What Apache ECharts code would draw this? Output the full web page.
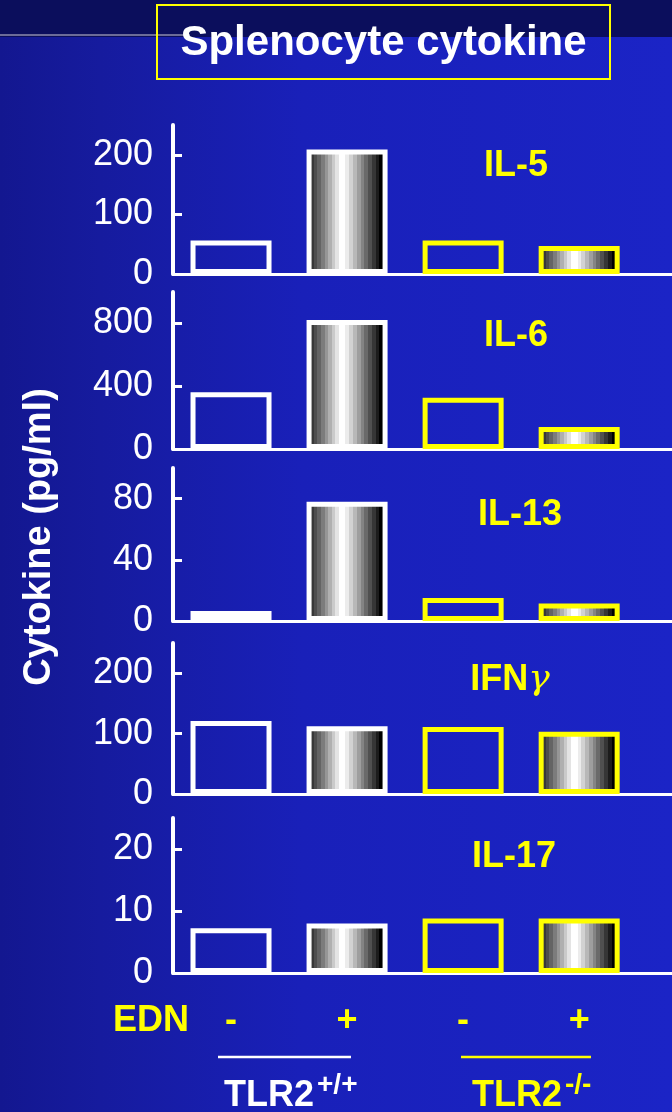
<!DOCTYPE html>
<html>
<head>
<meta charset="utf-8">
<script src="https://cdn.jsdelivr.net/npm/echarts@6/dist/echarts.min.js"></script>
<style>
  html, body { margin: 0; padding: 0; }
  #chart { width: 672px; height: 1112px; }
</style>
</head>
<body>
<div id="chart"></div>
<script>
// Groups along the x axis: EDN treatment and TLR2 genotype
const ednLabels = ['-', '+', '-', '+'];
const genotypes = ['TLR2+/+', 'TLR2+/+', 'TLR2-/-', 'TLR2-/-'];

// One panel per cytokine (pg/ml)
const cytokines = ['IL-5', 'IL-6', 'IL-13', 'IFNγ', 'IL-17'];
const il5 = [56, 209, 56, 47];
const il6 = [361, 822, 327, 140];
const il13 = [6.5, 78, 15, 11.5];
const ifng = [121, 112, 111, 103];
const il17 = [7.2, 8.0, 8.8, 8.8];
const panelValues = [il5, il6, il13, ifng, il17];

// Axis ranges and tick labels of each panel
const axisMax = [250, 1000, 100, 250, 25];
const tickValues = [[0, 100, 200], [0, 400, 800], [0, 40, 80], [0, 100, 200], [0, 10, 20]];

// Panel placement (pixels)
const panelTop = [125, 292, 468, 643, 818];
const panelBottom = [274, 449, 621, 794, 973];
const nameX = [516, 516, 520, 510, 514];
const nameY = [166, 336, 515, 680, 857];

const WHITE = '#ffffff';
const YELLOW = '#ffff00';
const FONT = '"Liberation Sans", Arial, sans-serif';

// Stepped grey shading used for EDN-treated bars
function steppedStops(bands) {
  const stops = [];
  bands.forEach(b => {
    stops.push({ offset: b[0], color: b[2] });
    stops.push({ offset: b[1], color: b[2] });
  });
  return stops;
}
const leftShades = ['#262626', '#383838', '#4e4e4e', '#646464', '#7c7c7c', '#969696', '#b0b0b0', '#cacaca', '#e4e4e4'];
const rightShades = ['#ececec', '#d2d2d2', '#b8b8b8', '#9e9e9e', '#848484', '#6a6a6a', '#505050', '#363636', '#1c1c1c'];
const bands = [];
leftShades.forEach((c, i) => bands.push([i * 0.40 / 9, (i + 1) * 0.40 / 9, c]));
bands.push([0.40, 0.48, '#ffffff']);
rightShades.forEach((c, i) => bands.push([0.48 + i * 0.42 / 9, 0.48 + (i + 1) * 0.42 / 9, c]));
bands.push([0.90, 1.0, '#000000']);
const shadedFill = { type: 'linear', x: 0, y: 0, x2: 1, y2: 0, colorStops: steppedStops(bands) };

const grids = [], xAxes = [], yAxes = [], series = [];
panelValues.forEach((vals, k) => {
  const last = k === panelValues.length - 1;
  grids.push({
    left: 173, right: 0, top: panelTop[k], height: panelBottom[k] - panelTop[k],
    containLabel: false, outerBoundsMode: 'none'
  });
  xAxes.push({
    gridIndex: k, type: 'value', min: -0.5, max: 3.8,
    axisLine: { show: true, onZero: false, lineStyle: { color: WHITE, width: 3 } },
    axisTick: { show: false },
    splitLine: { show: false },
    axisLabel: {
      show: last,
      customValues: [0, 1, 2, 3],
      formatter: v => ednLabels[v] || '',
      color: YELLOW, fontSize: 36, fontWeight: 'bold', fontFamily: FONT,
      margin: 48, verticalAlign: 'middle'
    }
  });
  yAxes.push({
    gridIndex: k, type: 'value', min: 0, max: axisMax[k],
    axisLine: { show: true, onZero: false, lineStyle: { color: WHITE, width: 4 } },
    axisTick: { show: true, inside: true, length: 9, customValues: tickValues[k], lineStyle: { color: WHITE, width: 3 } },
    splitLine: { show: false },
    axisLabel: {
      customValues: tickValues[k],
      color: WHITE, fontSize: 36, fontFamily: FONT, margin: 20
    }
  });
  series.push({
    type: 'bar', xAxisIndex: k, yAxisIndex: k, barWidth: 81,
    silent: true,
    data: vals.map((v, i) => ({
      value: [i, v],
      itemStyle: {
        color: ednLabels[i] === '+' ? shadedFill : 'rgba(0,0,0,0)',
        borderColor: genotypes[i] === 'TLR2+/+' ? WHITE : YELLOW,
        borderWidth: 5
      }
    }))
  });
});

const graphics = [
  // dark header band and rule
  { type: 'rect', shape: { x: 0, y: 0, width: 672, height: 37 }, style: { fill: '#0b0e5c' }, z: -1 },
  { type: 'line', shape: { x1: 0, y1: 35, x2: 190, y2: 35 }, style: { stroke: '#6c6c98', lineWidth: 2 } },
  // title box
  { type: 'rect', shape: { x: 157, y: 5, width: 453, height: 74 }, style: { fill: null, stroke: YELLOW, lineWidth: 2 } },
  { type: 'text', x: 383.5, y: 43, style: { text: 'Splenocyte cytokine', fill: WHITE, font: 'bold 42px ' + FONT, align: 'center', verticalAlign: 'middle' } },
  // y axis title
  { type: 'text', x: 40, y: 537, rotation: Math.PI / 2, style: { text: 'Cytokine (pg/ml)', fill: WHITE, font: 'bold 38px ' + FONT, align: 'center', verticalAlign: 'middle' } },
  // EDN row label
  { type: 'text', x: 151, y: 1021, style: { text: 'EDN', fill: YELLOW, font: 'bold 36px ' + FONT, align: 'center', verticalAlign: 'middle' } },
  // genotype underlines
  { type: 'line', shape: { x1: 218, y1: 1057, x2: 351, y2: 1057 }, style: { stroke: WHITE, lineWidth: 2.5 } },
  { type: 'line', shape: { x1: 461, y1: 1057, x2: 591, y2: 1057 }, style: { stroke: YELLOW, lineWidth: 2.5 } },
  // genotype labels
  { type: 'text', x: 224, y: 1096, style: { text: 'TLR2', fill: WHITE, font: 'bold 36px ' + FONT, align: 'left', verticalAlign: 'middle' } },
  { type: 'text', x: 317, y: 1085, style: { text: '+/+', fill: WHITE, font: 'bold 28px ' + FONT, align: 'left', verticalAlign: 'middle' } },
  { type: 'text', x: 472, y: 1096, style: { text: 'TLR2', fill: YELLOW, font: 'bold 36px ' + FONT, align: 'left', verticalAlign: 'middle' } },
  { type: 'text', x: 565, y: 1085, style: { text: '-/-', fill: YELLOW, font: 'bold 28px ' + FONT, align: 'left', verticalAlign: 'middle' } }
];

// cytokine name of each panel
cytokines.forEach((name, k) => {
  if (name.endsWith('γ')) {
    graphics.push({
      type: 'text', x: nameX[k], y: nameY[k],
      style: {
        text: '{a|' + name.slice(0, -1) + '}{g|γ}',
        align: 'center', verticalAlign: 'middle',
        rich: {
          a: { fill: YELLOW, font: 'bold 36px ' + FONT },
          g: { fill: YELLOW, font: 'italic 36px "DejaVu Serif", serif' }
        }
      }
    });
  } else {
    graphics.push({
      type: 'text', x: nameX[k], y: nameY[k],
      style: { text: name, fill: YELLOW, font: 'bold 36px ' + FONT, align: 'center', verticalAlign: 'middle' }
    });
  }
});

const chart = echarts.init(document.getElementById('chart'), null, { renderer: 'canvas' });
chart.setOption({
  animation: false,
  backgroundColor: {
    type: 'linear', x: 0, y: 0, x2: 1, y2: 0,
    colorStops: [
      { offset: 0, color: '#131790' },
      { offset: 0.15, color: '#161b9e' },
      { offset: 0.45, color: '#1920b9' },
      { offset: 1, color: '#1b24c6' }
    ]
  },
  grid: grids,
  xAxis: xAxes,
  yAxis: yAxes,
  series: series,
  graphic: graphics
});
</script>
</body>
</html>
